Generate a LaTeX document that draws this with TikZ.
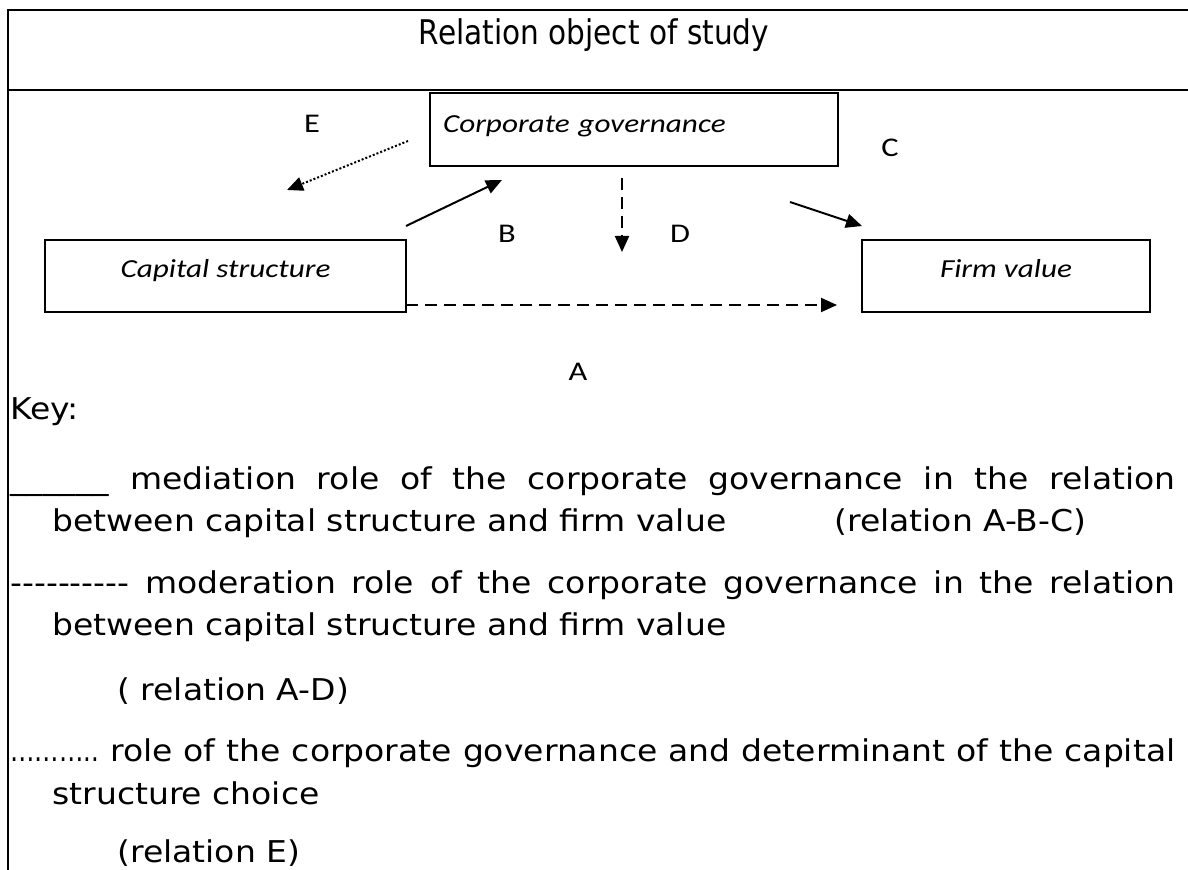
\documentclass[tikz,border=0pt]{standalone}
\usepackage{fontspec}
\usetikzlibrary{arrows.meta,positioning}
\newfontfamily\keyfont{DejaVu Sans}[FakeStretch=1.1]
\newfontfamily\titlefont{DejaVu Sans}[FakeStretch=0.87]
\newfontfamily\calfont{Carlito}[FakeStretch=1.2]

\tikzset{
  frame/.style={line width=1.25pt},
  box/.style={draw, line width=0.7pt, inner sep=0pt, text height=7pt, text depth=5pt,
    font=\calfont\itshape\fontsize{13}{15}\selectfont},
  lbl/.style={inner sep=0pt, font=\calfont\fontsize{13.5}{16}\selectfont},
  keytxt/.style={inner sep=0pt, anchor=base west, font=\keyfont\fontsize{15}{18}\selectfont},
  rel/.style={line width=1pt, -{Triangle[length=8pt,width=7pt]}},
  reldash/.style={rel, dash pattern=on 6pt off 3.5pt},
  reldot/.style={rel, dash pattern=on 1pt off 1pt},
}

\begin{document}
\begin{tikzpicture}[x=0.5pt,y=-0.5pt]
\useasboundingbox (0,0) rectangle (1188,870);

% cadre
\draw[frame] (1188,10) -- (8,10) -- (8,870);
\draw[frame] (8,90) -- (1188,90);
\node[inner sep=0pt, anchor=base, font=\titlefont\fontsize{17}{20}\selectfont] (title) at (594,45) {Relation object of study};

% boites
\node[box, minimum width=204pt, minimum height=36.5pt, inner xsep=6.5pt, text width=191pt,
  align=left, text height=8.75pt, text depth=5.25pt] (gov) at (634,129.5) {Corporate governance};
\node[box, minimum width=180.5pt, minimum height=36pt] (cap) at (225.5,276) {Capital structure};
\node[box, minimum width=144pt, minimum height=36pt] (fv) at (1006,276) {Firm value};

% lettres
\node[lbl] (E) at (312,124) {E};
\node[lbl] (B) at (507,234) {B};
\node[lbl] (D) at (680,234) {D};
\node[lbl] (C) at (890,148) {C};
\node[lbl] (A) at (578,372) {A};

% fleches
\coordinate (eS) at (408,141);
\coordinate (eT) at (287,190);
\coordinate (bS) at (406,226);
\coordinate (bT) at (502,180);
\coordinate (cS) at (790,202);
\coordinate (cT) at (862,226);
\coordinate (dS) at (622,178);
\coordinate (dT) at (622,252);
\coordinate (aS) at (406,305);
\coordinate (aT) at (837,305);

\draw[reldot] (eS) -- (eT);
\draw[rel] (bS) -- (bT);
\draw[rel] (cS) -- (cT);
\draw[reldash] (dS) -- (dT);
\draw[reldash] (aS) -- (aT);

% legende
\node[keytxt] (key) at (10,420) {Key:};
\node[keytxt] (k1) at (10,490) {\makebox[582.5pt][s]{\_\_\_\_\_\_ mediation role of the corporate governance in the relation}};
\node[keytxt] (k1b) at (52,532) {between capital structure and firm value\hspace{54pt}(relation A-B-C)};
\node[keytxt] (k2) at (10,594) {\makebox[582.5pt][s]{-{}-{}-{}-{}-{}-{}-{}-{}-{}- moderation role of the corporate governance in the relation}};
\node[keytxt] (k2b) at (52,636) {between capital structure and firm value};
\node[keytxt] (k2c) at (117,700) {( relation A-D)};
\node[keytxt] (k3) at (10,762) {\makebox[582.5pt][s]{\scalebox{0.74}[1]{………..} role of the corporate governance and determinant of the capital}};
\node[keytxt] (k3b) at (52,804) {structure choice};
\node[keytxt] (k3c) at (117,862) {(relation E)};
\end{tikzpicture}
\end{document}
